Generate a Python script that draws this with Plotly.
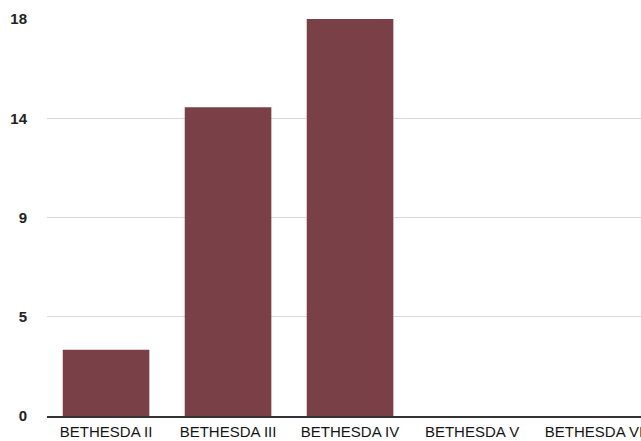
import plotly.graph_objects as go

categories = ["BETHESDA II", "BETHESDA III", "BETHESDA IV", "BETHESDA V", "BETHESDA VI"]
values = [3, 14, 18, 0, 0]
y_tick_vals = [0, 4.5, 9, 13.5, 18]
y_tick_text = ["0", "5", "9", "14", "18"]

fig = go.Figure(
    go.Bar(
        x=categories,
        y=values,
        marker=dict(color="#7a4047", line=dict(width=0)),
    )
)

fig.update_layout(
    width=641,
    height=441,
    margin=dict(l=47, r=0, t=19, b=25),
    paper_bgcolor="white",
    plot_bgcolor="white",
    bargap=0.29,
    showlegend=False,
    font=dict(family="Liberation Sans, Arial, sans-serif", color="#1e1e1e"),
)

fig.update_xaxes(
    type="category",
    automargin=False,
    range=[-0.484, 4.385],
    showline=True,
    linecolor="#333333",
    linewidth=2,
    showgrid=False,
    ticks="outside",
    ticklen=1,
    tickcolor="rgba(0,0,0,0)",
    tickfont=dict(size=15, color="#141414"),
)

fig.update_yaxes(
    automargin=False,
    range=[0, 18],
    tickvals=y_tick_vals,
    ticktext=y_tick_text,
    showgrid=True,
    gridcolor="#d9d9d9",
    gridwidth=1,
    zeroline=False,
    showline=False,
    ticks="outside",
    ticklen=16,
    tickcolor="rgba(0,0,0,0)",
    tickfont=dict(size=15, color="#222222", family="Liberation Sans, Arial, sans-serif", weight="bold"),
)

fig.write_html("out.html")
